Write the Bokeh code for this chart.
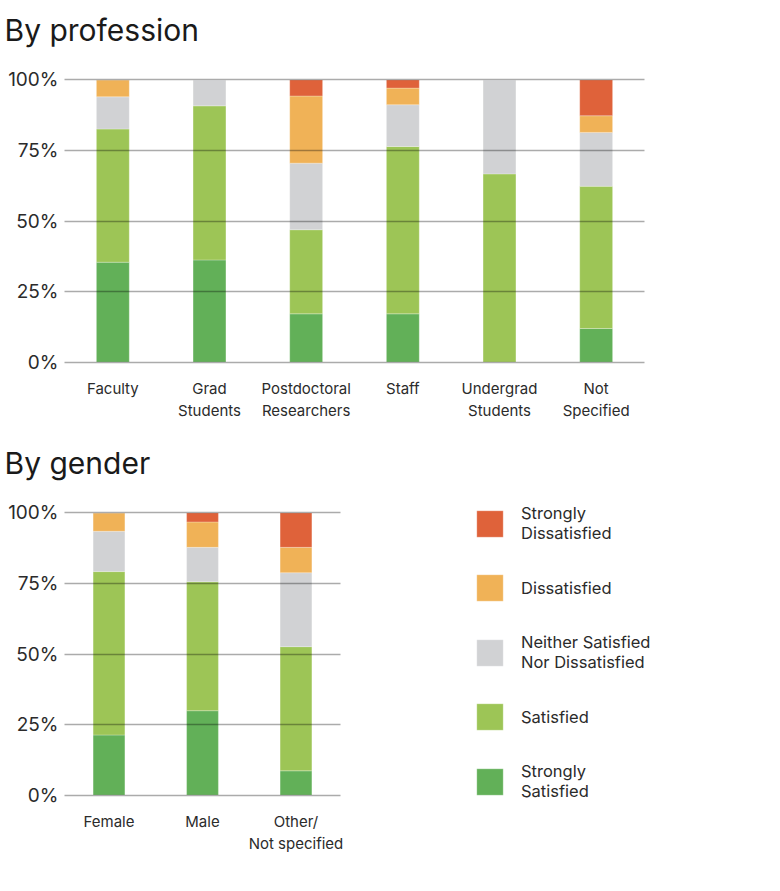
from bokeh.plotting import figure
from bokeh.models import ColumnDataSource, FixedTicker, PrintfTickFormatter, Range1d, Legend, LegendItem, FactorRange
from bokeh.layouts import column
from bokeh.embed import file_html
from bokeh.resources import INLINE

levels = ["ss", "s", "n", "d", "sd"]
level_labels = ["Strongly\nSatisfied", "Satisfied", "Neither Satisfied\nNor Dissatisfied",
                "Dissatisfied", "Strongly\nDissatisfied"]
colors = ["#62b058", "#9dc556", "#d1d2d4", "#f0b257", "#df623a"]

prof_cats = ["Faculty", "Grad\nStudents", "Postdoctoral\nResearchers", "Staff",
             "Undergrad\nStudents", "Not\nSpecified"]
prof_ss = [35.4, 36.2, 17.1, 17.1, 0.0, 11.9]
prof_s = [47.2, 54.6, 29.8, 59.3, 66.7, 50.4]
prof_n = [11.4, 9.2, 23.6, 14.8, 33.3, 19.1]
prof_d = [6.0, 0.0, 23.8, 5.9, 0.0, 5.9]
prof_sd = [0.0, 0.0, 5.7, 2.9, 0.0, 12.7]

gender_cats = ["Female", "Male", "Other/\nNot specified"]
gen_ss = [21.3, 29.9, 8.6]
gen_s = [57.9, 45.7, 44.0]
gen_n = [14.3, 12.2, 26.2]
gen_d = [6.5, 9.0, 9.0]
gen_sd = [0.0, 3.2, 12.2]

y_ticks = [0, 25, 50, 75, 100]
FONT = "Inter"
TXT = "#2b2b2b"


def heading(text, standoff):
    h = figure(frame_width=700, frame_height=1, x_axis_type=None, y_axis_type=None,
               toolbar_location=None, output_backend="svg", min_border=0, title=text)
    h.outline_line_color = None
    h.background_fill_color = None
    h.border_fill_color = None
    h.title.text_font = FONT
    h.title.text_font_size = "30px"
    h.title.text_font_style = "normal"
    h.title.text_color = "#1a1a1a"
    h.title.offset = -60
    h.title.standoff = standoff
    return h


def make_fig(cats, vals, frame_width, bar_width, pad, left, right, top, bottom):
    src = ColumnDataSource(dict(cat=cats, ss=vals[0], s=vals[1], n=vals[2], d=vals[3], sd=vals[4]))
    p = figure(x_range=FactorRange(*cats, range_padding=pad, range_padding_units="absolute"),
               y_range=Range1d(-0.5, 100.5),
               frame_width=frame_width, frame_height=285, output_backend="svg",
               toolbar_location=None,
               min_border_left=left, min_border_right=right,
               min_border_top=top, min_border_bottom=bottom)
    rs = p.vbar_stack(levels, x="cat", width=bar_width, source=src, fill_color=colors,
                      line_color="white", line_alpha=0.25, line_width=1)
    p.outline_line_color = None
    p.background_fill_color = None
    p.border_fill_color = None
    p.xgrid.grid_line_color = None
    p.ygrid.ticker = FixedTicker(ticks=y_ticks)
    p.ygrid.grid_line_color = "black"
    p.ygrid.grid_line_alpha = 0.33
    p.ygrid.grid_line_width = 1.5
    p.ygrid.level = "overlay"
    p.yaxis.ticker = FixedTicker(ticks=y_ticks)
    p.yaxis.formatter = PrintfTickFormatter(format="%d%%")
    for ax in (p.xaxis, p.yaxis):
        ax.axis_line_color = None
        ax.major_tick_line_color = None
        ax.minor_tick_line_color = None
        ax.major_label_text_font = FONT
        ax.major_label_text_color = TXT
    p.yaxis.major_label_text_font_size = "19px"
    p.yaxis.major_label_standoff = 0
    p.xaxis.major_label_text_font_size = "15px"
    p.xaxis.major_label_standoff = 9
    return p, rs


h1 = heading("By profession", 19)
p1, _ = make_fig(prof_cats, [prof_ss, prof_s, prof_n, prof_d, prof_sd],
                 580, 0.34, 0, 64, 10, 20, 70)
h2 = heading("By gender", 19)
p2, rs2 = make_fig(gender_cats, [gen_ss, gen_s, gen_n, gen_d, gen_sd],
                   276, 0.34, -0.024, 64, 150, 20, 60)

items = [LegendItem(label=level_labels[i], renderers=[rs2[i]]) for i in reversed(range(5))]
legend = Legend(items=items, location=(133, -5), padding=0, margin=0,
                border_line_color=None, background_fill_color=None, background_fill_alpha=0,
                glyph_width=33, glyph_height=33, label_standoff=15, label_height=33,
                label_width=140, spacing=28, label_text_font=FONT, label_text_font_size="16.5px",
                label_text_color=TXT)
p2.add_layout(legend, "right")

layout = column(h1, p1, h2, p2, spacing=0)
open("out.html", "w").write(file_html(layout, INLINE))
